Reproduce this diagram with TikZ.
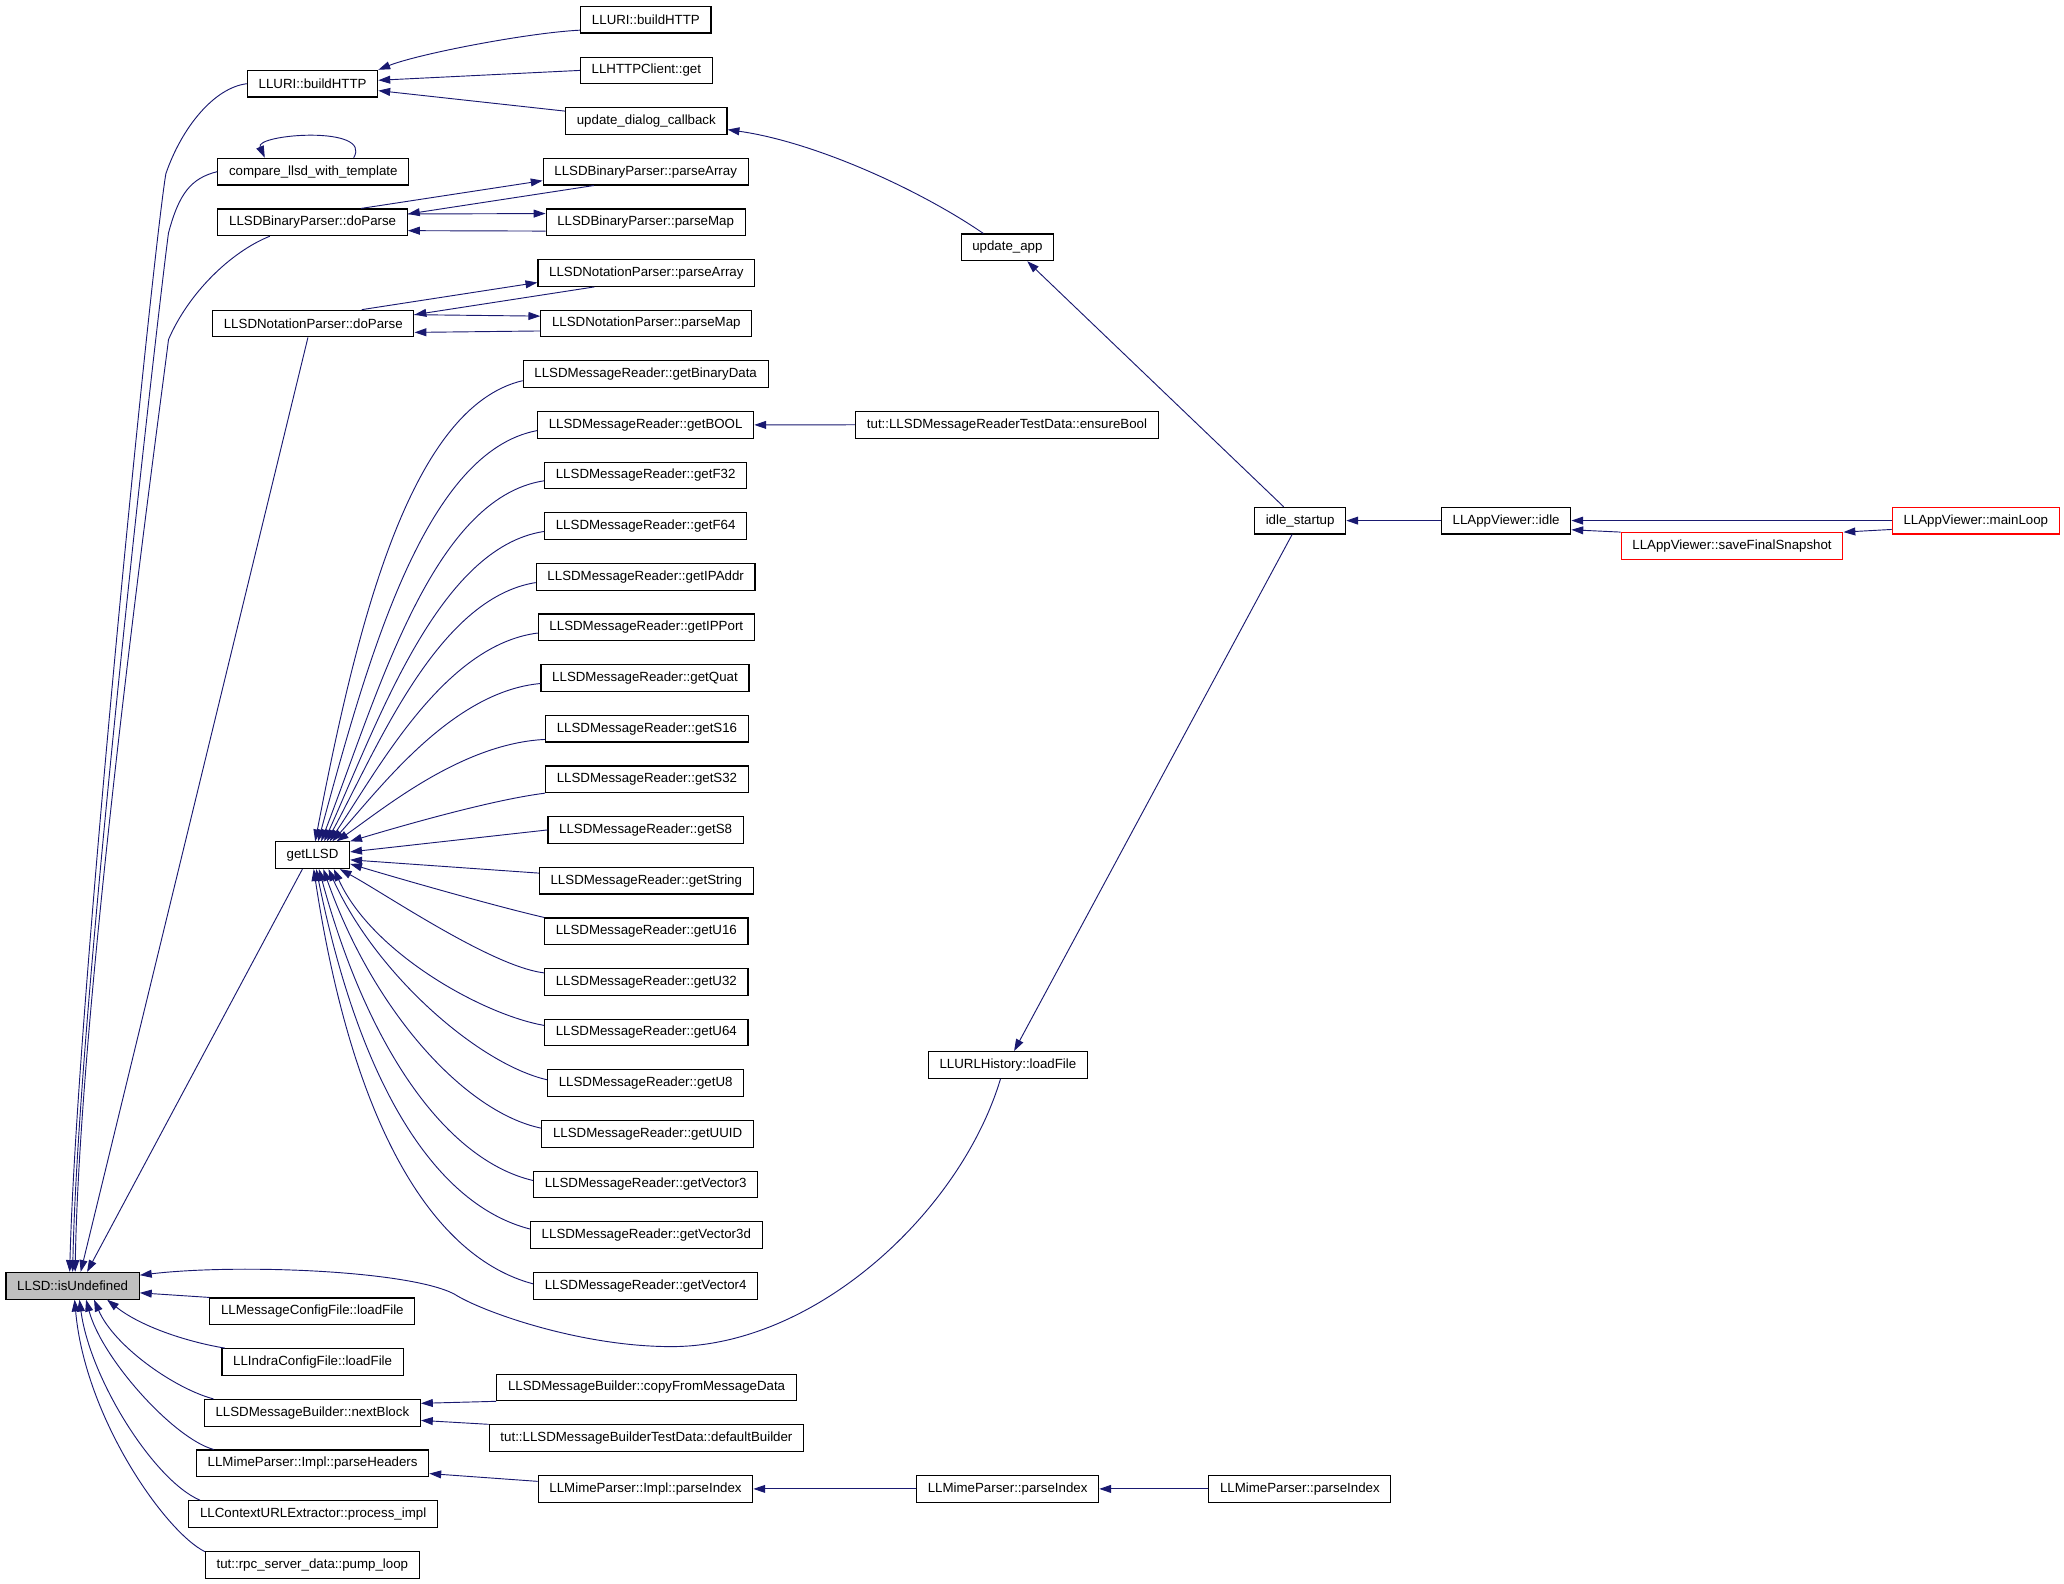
\documentclass[tikz,border=0pt]{standalone}
\usepackage{fontspec}
\setmainfont{Liberation Sans}
\usetikzlibrary{arrows.meta}
\definecolor{edgeblue}{RGB}{25,25,112}
\definecolor{nodegray}{RGB}{191,191,191}

\begin{document}
\begin{tikzpicture}[x=0.02cm, y=-0.02cm,
    fn/.style={draw=black, line width=0.5pt, fill=white, font=\fontsize{5.75}{6.5}\selectfont, inner xsep=0.17cm, inner ysep=0pt, minimum height=0.405cm},
    redfn/.style={fn, draw=red},
    call/.style={draw=edgeblue, line width=0.4pt, -{Triangle[length=0.18cm, width=0.12cm]}}]
        \useasboundingbox (0,0) rectangle (1568,1202.6);

        \node[fn, fill=nodegray] (isu) at (55.2,976.8) {LLSD::isUndefined};

        \node[fn] (bh) at (237.5,63.6) {LLURI::buildHTTP};
        \node[fn] (cmp) at (238,130.4) {compare\_llsd\_with\_template};
        \node[fn] (bdp) at (237.5,168.9) {LLSDBinaryParser::doParse};
        \node[fn] (ndp) at (238,245.8) {LLSDNotationParser::doParse};
        \node[fn] (llsd) at (237.4,649.7) {getLLSD};
        \node[fn] (mcf) at (237.3,996.2) {LLMessageConfigFile::loadFile};
        \node[fn] (icf) at (237.5,1034.7) {LLIndraConfigFile::loadFile};
        \node[fn] (nb) at (237.3,1073.3) {LLSDMessageBuilder::nextBlock};
        \node[fn] (ph) at (237.5,1111.7) {LLMimeParser::Impl::parseHeaders};
        \node[fn] (pi) at (237.9,1150.2) {LLContextURLExtractor::process\_impl};
        \node[fn] (pl) at (237.3,1188.8) {tut::rpc\_server\_data::pump\_loop};

        \node[fn] (bhr) at (490.7,15) {LLURI::buildHTTP};
        \node[fn] (get) at (491,53.5) {LLHTTPClient::get};
        \node[fn] (udc) at (491,92) {update\_dialog\_callback};
        \node[fn] (bpa) at (490.5,130.4) {LLSDBinaryParser::parseArray};
        \node[fn] (bpm) at (490.5,168.9) {LLSDBinaryParser::parseMap};
        \node[fn] (npa) at (491,207.4) {LLSDNotationParser::parseArray};
        \node[fn] (npm) at (491,245.8) {LLSDNotationParser::parseMap};
        \node[fn] (gbin) at (490.5,284.3) {LLSDMessageReader::getBinaryData};
        \node[fn] (gbool) at (490.5,322.8) {LLSDMessageReader::getBOOL};
        \node[fn] (gf32) at (490.5,361.2) {LLSDMessageReader::getF32};
        \node[fn] (gf64) at (490.5,399.7) {LLSDMessageReader::getF64};
        \node[fn] (gipa) at (490.5,438.2) {LLSDMessageReader::getIPAddr};
        \node[fn] (gipp) at (491,476.6) {LLSDMessageReader::getIPPort};
        \node[fn] (gquat) at (490,515.1) {LLSDMessageReader::getQuat};
        \node[fn] (gs16) at (491.5,553.6) {LLSDMessageReader::getS16};
        \node[fn] (gs32) at (491.5,592) {LLSDMessageReader::getS32};
        \node[fn] (gs8) at (490.5,630.5) {LLSDMessageReader::getS8};
        \node[fn] (gstr) at (491,669) {LLSDMessageReader::getString};
        \node[fn] (gu16) at (491,707.5) {LLSDMessageReader::getU16};
        \node[fn] (gu32) at (491,745.9) {LLSDMessageReader::getU32};
        \node[fn] (gu64) at (491,784.4) {LLSDMessageReader::getU64};
        \node[fn] (gu8) at (490.5,822.9) {LLSDMessageReader::getU8};
        \node[fn] (guuid) at (492,861.3) {LLSDMessageReader::getUUID};
        \node[fn] (gv3) at (490.5,899.8) {LLSDMessageReader::getVector3};
        \node[fn] (gv3d) at (491,938.3) {LLSDMessageReader::getVector3d};
        \node[fn] (gv4) at (490.5,976.8) {LLSDMessageReader::getVector4};
        \node[fn] (cfmd) at (491.2,1054) {LLSDMessageBuilder::copyFromMessageData};
        \node[fn] (dbld) at (491.1,1092.6) {tut::LLSDMessageBuilderTestData::defaultBuilder};
        \node[fn] (ipi) at (490.4,1131.1) {LLMimeParser::Impl::parseIndex};

        \node[fn] (ua) at (765.3,187.9) {update\_app};
        \node[fn] (eb) at (765,322.7) {tut::LLSDMessageReaderTestData::ensureBool};
        \node[fn] (uh) at (765.7,809) {LLURLHistory::loadFile};
        \node[fn] (mpi) at (765.5,1131.1) {LLMimeParser::parseIndex};

        \node[fn] (ids) at (987.7,395.5) {idle\_startup};
        \node[fn] (rpi) at (987.5,1131.1) {LLMimeParser::parseIndex};
        \node[fn] (idle) at (1144.2,395.5) {LLAppViewer::idle};
        \node[redfn] (sfs) at (1315.8,414.8) {LLAppViewer::saveFinalSnapshot};
        \node[redfn] (ml) at (1501,395.5) {LLAppViewer::mainLoop};

        \draw[call] (bhr.189) .. controls +(-40,2) and +(30,-12) .. (bh.north east);
        \draw[call] (get.west) -- (bh.3);
        \draw[call] (udc.173) -- (bh.-6);
        \draw[call] (ua.150) .. controls (700,145) and (620,108) .. (udc.-6);
        \draw[call] (ids.140) -- (ua.-35);
        \draw[call] (idle.west) -- (ids.east);
        \draw[call] (ml.west) -- (idle.east);
        \draw[call] (sfs.north west) -- (idle.-8);
        \draw[call] (ml.186) -- (sfs.north east);
        \draw[call] (ids.240) -- (uh.66);
        \draw[call] (uh.242) .. controls (730,920) and (620,1023) .. (510,1023)
            .. controls (440,1023) and (365,996) .. (345,983)
            .. controls (310,965) and (180,960) .. (isu.9);

        \draw[call] (cmp.19) .. controls +(15,-25) and +(-8,-18) .. (cmp.164);

        \draw[call] (bdp.16) -- (bpa.185);
        \draw[call] (bpa.195) -- (bdp.5);
        \draw[call] (bdp.5) -- (bpm.175);
        \draw[call] (bpm.185) -- (bdp.-5);
        \draw[call] (ndp.16) -- (npa.185);
        \draw[call] (npa.195) -- (ndp.5);
        \draw[call] (ndp.5) -- (npm.176);
        \draw[call] (npm.184) -- (ndp.-5);

        \draw[call] (bh.west) .. controls +(-25,3) and +(12,-35) .. (126,132)
            .. controls +(-10,60) and +(5,-200) .. (isu.102);
        \draw[call] (cmp.west) .. controls +(-20,5) and +(8,-30) .. (128,177)
            .. controls +(-8,60) and +(4,-200) .. (isu.90);
        \draw[call] (bdp.198) .. controls +(-30,12) and +(15,-35) .. (128,258)
            .. controls +(-6,50) and +(4,-220) .. (isu.80);
        \draw[call] (ndp.249) -- (isu.60);
        \draw[call] (llsd.234) -- (isu.44);

        \draw[call] (mcf.north west) -- (isu.-6);
        \draw[call] (icf.171) .. controls +(-30,-5) and +(25,20) .. (isu.-22);
        \draw[call] (nb.172) .. controls +(-30,-8) and +(15,35) .. (isu.-33);
        \draw[call] (ph.172) .. controls +(-30,-8) and +(12,45) .. (isu.-46);
        \draw[call] (pi.173) .. controls +(-35,-15) and +(8,60) .. (isu.-64);
        \draw[call] (pl.173) .. controls +(-30,-15) and +(8,90) .. (isu.-82);

        \draw[call] (gbin.183) .. controls +(-85,20) and +(32,-167) .. (llsd.79);
        \draw[call] (gbool.183) .. controls +(-85,16) and +(38,-140) .. (llsd.68);
        \draw[call] (gf32.183) .. controls +(-85,13) and +(43,-112) .. (llsd.58);
        \draw[call] (gf64.183) .. controls +(-80,12) and +(41,-91) .. (llsd.50);
        \draw[call] (gipa.183) .. controls +(-75,12) and +(38,-70) .. (llsd.44);
        \draw[call] (gipp.183) .. controls +(-71,9) and +(37,-55) .. (llsd.39);
        \draw[call] (gquat.183) .. controls +(-67,6) and +(36,-40) .. (llsd.35);
        \draw[call] (gs16.186) .. controls +(-63,3) and +(36,-25) .. (llsd.30);
        \draw[call] (gs32.south west) .. controls +(-40,5) and +(40,-12) .. (llsd.north east);
        \draw[call] (gs8.west) -- (llsd.5);
        \draw[call] (gstr.176) -- (llsd.-7);
        \draw[call] (gu16.north west) .. controls +(-35,-8) and +(40,12) .. (llsd.-13);
        \draw[call] (gu32.175) .. controls +(-40,-5) and +(35,19) .. (llsd.-27);
        \draw[call] (gu64.176) .. controls +(-46,-8) and +(29,64) .. (llsd.-33);
        \draw[call] (gu8.178) .. controls +(-52,-12) and +(36,80) .. (llsd.-41);
        \draw[call] (guuid.177) .. controls +(-58,-12) and +(38,108) .. (llsd.-52);
        \draw[call] (gv3.178) .. controls +(-64,-15) and +(38,140) .. (llsd.-65);
        \draw[call] (gv3d.177) .. controls +(-70,-18) and +(34,168) .. (llsd.-75);
        \draw[call] (gv4.179) .. controls +(-75,-20) and +(30,198) .. (llsd.-85);

        \draw[call] (eb.west) -- (gbool.east);
        \draw[call] (cfmd.south west) -- (nb.5);
        \draw[call] (dbld.north west) -- (nb.-4);
        \draw[call] (ipi.176) -- (ph.-5);
        \draw[call] (mpi.west) -- (ipi.east);
        \draw[call] (rpi.west) -- (mpi.east);
    \end{tikzpicture}
\end{document}
